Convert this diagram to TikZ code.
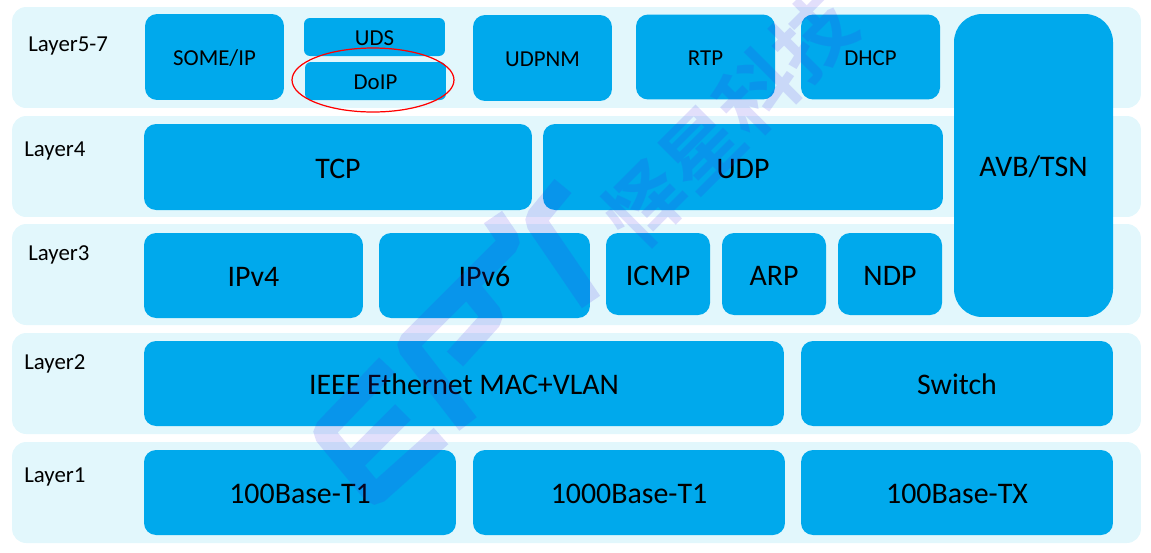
\documentclass[tikz,border=0pt]{standalone}
\usepackage{fontspec}
\setmainfont{Carlito}
\newfontfamily\cjkwm{Noto Sans CJK SC}[BoldFont={Noto Sans CJK SC Bold}]
\usepackage{xcolor}
\usetikzlibrary{shapes.geometric}
\definecolor{bandcol}{HTML}{E2F7FC}
\definecolor{blkcol}{HTML}{00A9EC}
\definecolor{markcol}{RGB}{60,40,230}

\begin{document}
\begin{tikzpicture}[x=0.02cm,y=-0.02cm,
    band/.style={fill=bandcol,rounded corners=0.28cm,minimum width=22.58cm,minimum height=2.02cm,inner sep=0pt},
    blk/.style={fill=blkcol,rounded corners=0.24cm,inner sep=0pt,text=black,text height=12.6pt,text depth=0pt,font=\fontsize{17}{20}\selectfont},
    blksmall/.style={blk,text height=10pt,font=\fontsize{13}{16}\selectfont},
    tag/.style={anchor=west,inner sep=0pt,font=\fontsize{13}{16}\selectfont},
    logostroke/.style={draw=markcol,draw opacity=0.15,line width=0.44cm,rounded corners=0.1cm}]
  \useasboundingbox (0,0) rectangle (1151,552);
  % layer bands
  \node[band] (band57) at (576.5,57.5) {};
  \node[band] (band4) at (576.5,166.5) {};
  \node[band] (band3) at (576.5,274.5) {};
  \node[band] (band2) at (576.5,383.5) {};
  \node[band] (band1) at (576.5,492.5) {};
  \node[tag] (tag57) at (28,46.5) {Layer5-7};
  \node[tag] (tag4) at (24,150.5) {Layer4};
  \node[tag] (tag3) at (28,254.5) {Layer3};
  \node[tag] (tag2) at (24,363.5) {Layer2};
  \node[tag] (tag1) at (24,476.5) {Layer1};
  % Layer5-7
  \node[blksmall,minimum width=2.78cm,minimum height=1.72cm] (someip) at (214.5,57) {SOME/IP};
  \node[blksmall,rounded corners=0.12cm,minimum width=2.82cm,minimum height=0.76cm] (uds) at (374.5,37) {UDS};
  \node[blksmall,rounded corners=0.12cm,minimum width=2.82cm,minimum height=0.76cm] (doip) at (375.5,81) {DoIP};
  \node[blksmall,minimum width=2.78cm,minimum height=1.72cm] (udpnm) at (542.5,58) {UDPNM};
  \node[blksmall,minimum width=2.78cm,minimum height=1.70cm] (rtp) at (705.5,57) {RTP};
  \node[blksmall,minimum width=2.78cm,minimum height=1.70cm] (dhcp) at (870.5,57) {DHCP};
  \node[draw=red,line width=0.7pt,ellipse,inner sep=0pt,minimum width=3.24cm,minimum height=1.28cm] (doipring) at (373,80) {};
  % AVB spans layers 3 to 5
  \node[blk,rounded corners=0.56cm,minimum width=3.18cm,minimum height=6.06cm] (avb) at (1033.5,165.5) {AVB/TSN};
  % Layer4
  \node[blk,minimum width=7.76cm,minimum height=1.72cm] (tcp) at (338,167) {TCP};
  \node[blk,minimum width=8.00cm,minimum height=1.72cm] (udp) at (743,167) {UDP};
  % Layer3
  \node[blk,minimum width=4.38cm,minimum height=1.70cm] (ipv4) at (253.5,275.5) {IPv4};
  \node[blk,minimum width=4.22cm,minimum height=1.70cm] (ipv6) at (484.5,275.5) {IPv6};
  \node[blk,minimum width=2.08cm,minimum height=1.64cm] (icmp) at (658,274) {ICMP};
  \node[blk,minimum width=2.08cm,minimum height=1.64cm] (arp) at (774,274) {ARP};
  \node[blk,minimum width=2.08cm,minimum height=1.64cm] (ndp) at (890,274) {NDP};
  % Layer2
  \node[blk,minimum width=12.80cm,minimum height=1.70cm] (mac) at (464,383.5) {IEEE Ethernet MAC+VLAN};
  \node[blk,minimum width=6.24cm,minimum height=1.70cm] (switch) at (957,383.5) {Switch};
  % Layer1
  \node[blk,minimum width=6.24cm,minimum height=1.70cm] (baset1) at (300,492.5) {100Base-T1};
  \node[blk,minimum width=6.24cm,minimum height=1.70cm] (gbaset1) at (629,492.5) {1000Base-T1};
  \node[blk,minimum width=6.24cm,minimum height=1.70cm] (basetx) at (957,492.5) {100Base-TX};
  % watermark
  \draw[logostroke] (387,365) -- (323,432) -- (375,495) -- (441,436) (403,412) -- (350,465);
  \draw[logostroke] (468,424) -- (407,345) -- (510,242) -- (493,217) (467,285) -- (493,317) -- (455,359);
  \draw[logostroke] (563,186) -- (535,220) -- (591,302);
  \node[rotate=45,text=markcol,text opacity=0.15,inner sep=0pt,font=\cjkwm\bfseries\fontsize{45}{47}\selectfont] (marktext) at (729,120) {怿星科技};
\end{tikzpicture}
\end{document}
